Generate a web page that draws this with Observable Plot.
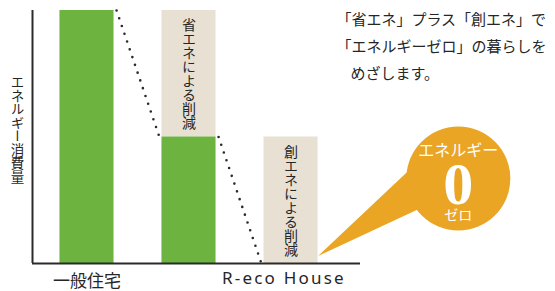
<!DOCTYPE html>
<html><head><meta charset="utf-8">
<script src="https://cdn.jsdelivr.net/npm/d3@7"></script>
<script src="https://cdn.jsdelivr.net/npm/@observablehq/plot@0.6"></script>
<style>
html,body{margin:0;padding:0;background:#fff;}
svg{display:block;}
</style>
</head><body><div id="chart"></div>
<script>
// ---- data ----
const stages = ["一般住宅", "省エネ後", "創エネ後"];
const stagePos = [0, 1, 2];
const energyUse = [100, 50, 0];
const reductionLabels = ["", "省エネによる削減", "創エネによる削減"];
const xLabels = ["一般住宅", "R-eco House"];
const xLabelPos = [0, 1.93];
const yLabel = "エネルギー消費量";
const noteLines = ["「省エネ」プラス「創エネ」で", "「エネルギーゼロ」の暮らしを", "めざします。"];
const noteY = [96, 85.4, 75];
const bubbleLines = ["エネルギー", "0", "ゼロ"];
const bubbleLineY = [44.5, 31, 19];
const bubbleCenter = [3.64, 33.6];
const pointerX = [2.27, 3.32];
const pointerLow = [2.8, 22.5];
const pointerHigh = [2.8, 42.7];

const halfW = 0.265;
const xDomain = [-0.534, 2.681];

const bars = stages.map((s, i) => ({stage: s, x1: stagePos[i] - halfW, x2: stagePos[i] + halfW, y: energyUse[i]}));
const reductions = stages.slice(1).map((s, k) => {
  const i = k + 1;
  return {x1: stagePos[i] - halfW, x2: stagePos[i] + halfW, y1: energyUse[i], y2: energyUse[i - 1],
          label: reductionLabels[i], x: stagePos[i], ym: (energyUse[i] + energyUse[i - 1]) / 2};
});
const links = stages.slice(0, -1).map((s, i) => ({
  x1: stagePos[i] + halfW + 0.025, y1: energyUse[i],
  x2: stagePos[i + 1] - halfW - 0.025, y2: energyUse[i + 1]
}));
const pointer = pointerX.map((x, i) => ({x, y1: pointerLow[i], y2: pointerHigh[i]}));

const green = "#6db33f", beige = "#e8e1d3", orange = "#e9a523", ink = "#2a2a2a", textInk = "#262626";
const jp = "'Noto Sans CJK JP', 'Noto Sans', sans-serif";
const noteX = 2.445;

const chart = Plot.plot({
  width: 555, height: 291,
  marginTop: 10, marginBottom: 28, marginLeft: 32, marginRight: 195,
  x: {type: "linear", domain: xDomain, axis: null},
  y: {domain: [0, 100], axis: null},
  style: {background: "#fff", fontFamily: jp},
  marks: [
    Plot.rect(reductions, {x1: "x1", x2: "x2", y1: "y1", y2: "y2", fill: beige}),
    Plot.rect(bars, {x1: "x1", x2: "x2", y1: 0, y2: "y", fill: green}),
    Plot.link(links, {x1: "x1", y1: "y1", x2: "x2", y2: "y2", stroke: ink, strokeWidth: 2.6,
                      strokeDasharray: "0 8.2", strokeLinecap: "round"}),
    Plot.ruleX([xDomain[0]], {stroke: ink, strokeWidth: 2}),
    Plot.ruleY([0], {stroke: ink, strokeWidth: 2}),
    Plot.text(reductions, {x: "x", y: "ym", text: "label", fontSize: 14, fill: textInk}),
    Plot.text([yLabel], {x: [-0.681], y: [53], text: d => d, fontSize: 13.5, fill: textInk}),
    Plot.text([xLabels[0]], {x: [xLabelPos[0]], y: [0], dy: 18, text: d => d, fontSize: 17, fill: textInk}),
    Plot.text([xLabels[1]], {x: [xLabelPos[1]], y: [0], dy: 15, text: d => d, fontSize: 17, fill: textInk,
                             fontFamily: "'Noto Sans', sans-serif"}),
    Plot.text(noteLines.slice(0, 2), {x: [noteX, noteX], y: noteY.slice(0, 2), text: d => d, textAnchor: "start", fontSize: 15, fill: textInk}),
    Plot.text(noteLines.slice(2), {x: [noteX], y: noteY.slice(2), dx: 14, text: d => d, textAnchor: "start", fontSize: 15, fill: textInk}),
    Plot.areaY(pointer, {x: "x", y1: "y1", y2: "y2", fill: orange}),
    Plot.dot([bubbleCenter], {x: d => d[0], y: d => d[1], r: 52, fill: orange}),
    Plot.text([bubbleLines[0]], {x: [bubbleCenter[0]], y: [bubbleLineY[0]], text: d => d, fill: "#fff", fontSize: 16}),
    Plot.text([bubbleLines[1]], {x: [bubbleCenter[0]], y: [bubbleLineY[1]], text: d => d, fill: "#fff", fontSize: 60,
                                 fontWeight: "bold", fontFamily: "'Liberation Serif', 'DejaVu Serif', serif"}),
    Plot.text([bubbleLines[2]], {x: [bubbleCenter[0]], y: [bubbleLineY[2]], text: d => d, fill: "#fff", fontSize: 14})
  ]
});

const verticalTexts = new Set([...reductionLabels.filter(d => d), yLabel]);
chart.querySelectorAll("text").forEach(t => {
  const s = t.textContent;
  if (verticalTexts.has(s)) {
    t.setAttribute("writing-mode", "vertical-rl");
    t.style.writingMode = "vertical-rl";
    t.removeAttribute("y");
    t.removeAttribute("dy");
  } else if (s === xLabels[1]) {
    t.style.letterSpacing = "2.2px";
  }
});
document.getElementById("chart").appendChild(chart);
</script>
</body></html>
